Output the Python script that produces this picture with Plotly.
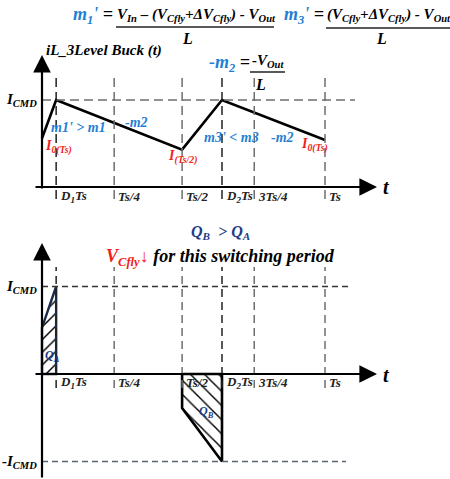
import plotly.graph_objects as go

W, H = 450, 479

# ---- waveform data (time in units of Ts, current in units of I_CMD) ----
tick_t = [0.05, 0.255, 0.495, 0.636, 0.75, 1.0]
tick_labels = ["D<sub>1</sub>Ts", "Ts/4", "Ts/2", "D<sub>2</sub>Ts", "3Ts/4", "Ts"]

# inductor current iL of the 3-level buck
iL_t = [0.0, 0.05, 0.495, 0.636, 1.0]
iL_i = [0.56, 1.0, 0.43, 1.0, 0.54]

# flying-capacitor current: charge Q_A and discharge Q_B
qa_t = [0.0, 0.0, 0.05, 0.05, 0.0]
qa_i = [0.0, 0.53, 1.0, 0.0, 0.0]
qb_t = [0.495, 0.495, 0.636, 0.636, 0.495]
qb_i = [0.0, -0.39, -1.0, 0.0, 0.0]

I_CMD = 1.0

# ---- pixel geometry of the two panels ----
X0, KX = 42.0, 283.0          # x pixel of t=0, pixels per Ts
Y0_TOP, KY_TOP = 187.0, 87.0  # upper panel: zero line, pixels per I_CMD
Y0_BOT, KY_BOT = 374.0, 87.5  # lower panel

x_range = [-X0 / KX, (W - X0) / KX]
y_top_range = [(Y0_TOP - H) / KY_TOP, Y0_TOP / KY_TOP]
y_bot_range = [(Y0_BOT - H) / KY_BOT, Y0_BOT / KY_BOT]


def px(x):
    return x / W


def py(y):
    return 1 - y / H


SERIF = "Liberation Serif"
BLUE = "#1f7fd4"
RED = "#f21d1d"
NAVY = "#1f3c88"
GRAY = "#6e6e6e"

fig = go.Figure()

# upper panel waveform
fig.add_trace(go.Scatter(x=iL_t, y=iL_i, mode="lines",
                         line=dict(color="black", width=2.6),
                         xaxis="x", yaxis="y", hoverinfo="skip"))

# lower panel hatched charge areas
fig.add_trace(go.Scatter(x=qa_t, y=qa_i, mode="lines", fill="toself",
                         fillcolor="rgba(0,0,0,0)",
                         fillpattern=dict(shape="/", size=9, solidity=0.16,
                                          fgcolor="#000000", fgopacity=1,
                                          bgcolor="rgba(0,0,0,0)"),
                         line=dict(color="#1b2a4a", width=2.4),
                         xaxis="x", yaxis="y2", hoverinfo="skip"))
fig.add_trace(go.Scatter(x=qb_t, y=qb_i, mode="lines", fill="toself",
                         fillcolor="rgba(0,0,0,0)",
                         fillpattern=dict(shape="\\", size=10, solidity=0.14,
                                          fgcolor="#000000", fgopacity=1,
                                          bgcolor="rgba(0,0,0,0)"),
                         line=dict(color="black", width=2.6),
                         xaxis="x", yaxis="y2", hoverinfo="skip"))

shapes = []
annotations = []

# dashed reference levels
shapes.append(dict(type="line", xref="paper", yref="y",
                   x0=px(X0), x1=px(355), y0=I_CMD, y1=I_CMD,
                   line=dict(color=GRAY, width=1.6, dash="9px,5px")))
shapes.append(dict(type="line", xref="paper", yref="y2",
                   x0=px(X0), x1=px(350), y0=I_CMD, y1=I_CMD,
                   line=dict(color="#333333", width=1.4, dash="6px,4px")))
shapes.append(dict(type="line", xref="paper", yref="y2",
                   x0=px(X0), x1=px(346), y0=-I_CMD, y1=-I_CMD,
                   line=dict(color="#5a6472", width=1.6, dash="6px,4px")))

# dashed time markers in both panels
for k, t in enumerate(tick_t):
    dark = k in (0, 3)
    col = "#222222" if dark else GRAY
    shapes.append(dict(type="line", xref="x", yref="paper",
                       x0=t, x1=t, y0=py(199), y1=py(77),
                       line=dict(color=col, width=1.5, dash="9px,5px")))
    shapes.append(dict(type="line", xref="x", yref="paper",
                       x0=t, x1=t, y0=py(388), y1=py(267),
                       line=dict(color=col, width=1.5, dash="8px,5px")))
    for yy in (196, 382):
        annotations.append(dict(x=t, y=py(yy), xref="x", yref="paper",
                                text=tick_labels[k], showarrow=False,
                                xanchor="left", yanchor="middle", xshift=2,
                                font=dict(family=SERIF, size=13, color="#222222",
                                          weight="bold", style="italic")))

# axes with arrowheads
def arrow(x_tip, y_tip, dx, dy):
    annotations.append(dict(x=px(x_tip), y=py(y_tip), xref="paper", yref="paper",
                            ax=dx, ay=dy, axref="pixel", ayref="pixel",
                            text="", showarrow=True, arrowhead=2,
                            arrowsize=1.6, arrowwidth=2.2, arrowcolor="black"))

arrow(X0, 55, 0, 135)      # upper vertical axis
arrow(377, Y0_TOP, -343, 0)  # upper time axis
arrow(X0, 243, 0, 237)     # lower vertical axis
arrow(377, Y0_BOT, -343, 0)  # lower time axis


def text(s, x, y, size, color="black", anchor="left", yref="paper", xref="paper"):
    annotations.append(dict(x=x, y=y, xref=xref, yref=yref, text=s,
                            showarrow=False, xanchor=anchor, yanchor="middle",
                            font=dict(family=SERIF, size=size, color=color,
                                      weight="bold", style="italic")))


def bar(x0, x1, y):
    shapes.append(dict(type="line", xref="paper", yref="paper",
                       x0=px(x0), x1=px(x1), y0=py(y), y1=py(y),
                       line=dict(color="#222222", width=1.6)))


# slope equations
text(f"<span style='color:{BLUE}'>m<sub>1</sub>'</span> =", px(71), py(16), 18)
text("V<sub>In</sub> – (V<sub>Cfly</sub>+ΔV<sub>Cfly</sub>) - V<sub>Out</sub>",
     px(115), py(15), 15)
bar(116, 274, 27)
text("L", px(187), py(38), 16, anchor="center")

text(f"<span style='color:{BLUE}'>m<sub>3</sub>'</span> =", px(282), py(16), 18)
text("(V<sub>Cfly</sub>+ΔV<sub>Cfly</sub>) - V<sub>Out</sub>", px(325), py(15), 15)
bar(326, 450, 28)
text("L", px(381), py(38), 16, anchor="center")

text("iL_3Level Buck (t)", px(44), py(50), 15)

text(f"<span style='color:{BLUE}'>-m<sub>2</sub></span> =", px(207), py(63), 18)
text("-V<sub>Out</sub>", px(250), py(61), 15)
bar(250, 285, 72)
text("L", px(253), py(84), 16)

# upper panel labels
text("I<sub>CMD</sub>", px(39), I_CMD, 15, anchor="right", yref="y")
text("m1' > m1", px(49), py(128), 14, color=BLUE)
text("-m2", px(123), py(123), 14, color=BLUE)
text("I<sub>0(Ts)</sub>", px(43), py(147), 14, color=RED)
text("I<sub>(Ts/2)</sub>", px(166), py(157), 14, color=RED)
text("m3' < m3", px(202), py(138), 14, color=BLUE)
text("-m2", px(269), py(138), 14, color=BLUE)
text("I<sub>0(Ts)</sub>", px(299), py(145), 14, color=RED)
text("t", px(381), py(187), 20)

# lower panel labels
text("Q<sub>B</sub>  > Q<sub>A</sub>", px(189), py(232), 16, color=NAVY)
text(f"<span style='color:{RED}'>V<sub>Cfly</sub>↓</span> for this switching period",
     px(104), py(257), 18)
text("I<sub>CMD</sub>", px(39), I_CMD, 15, anchor="right", yref="y2")
text("-I<sub>CMD</sub>", px(39), -I_CMD, 15, anchor="right", yref="y2")
text("Q<sub>A</sub>", px(43), py(356), 12, color=NAVY)
text("Q<sub>B</sub>", px(197), py(412), 12, color=NAVY)
text("t", px(381), py(375), 20)

hidden = dict(visible=False, showgrid=False, zeroline=False, fixedrange=True)
fig.update_layout(
    width=W, height=H, autosize=False,
    margin=dict(l=0, r=0, t=0, b=0),
    paper_bgcolor="white", plot_bgcolor="white",
    showlegend=False,
    xaxis=dict(range=x_range, domain=[0, 1], **hidden),
    yaxis=dict(range=y_top_range, domain=[0, 1], **hidden),
    yaxis2=dict(range=y_bot_range, overlaying="y", **hidden),
    shapes=shapes,
    annotations=annotations,
)

fig.write_html("out.html", config={"displayModeBar": False})
